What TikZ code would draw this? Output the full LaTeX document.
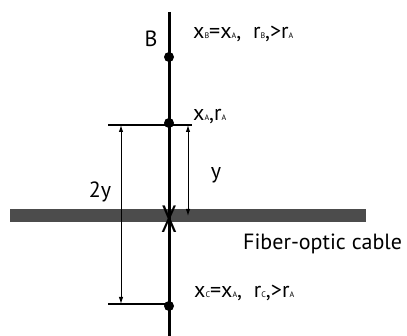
\documentclass[tikz,border=0pt]{standalone}
\usepackage{fontspec}
\setmainfont{PT Sans}
\usetikzlibrary{arrows.meta}
\newcommand{\sbs}[1]{{\fontsize{8}{8}\selectfont #1}}
\begin{document}
\begin{tikzpicture}[x=1pt,y=-1pt,
    dot/.style={circle,fill,inner sep=0pt,minimum size=10pt},
    dim/.style={{Latex[length=7pt,width=4.5pt]}-{Latex[length=7pt,width=4.5pt]},line width=1pt},
    tick/.style={line width=1.2pt},
    lbl/.style={font=\fontsize{22}{22}\selectfont,inner sep=0pt}]
  \useasboundingbox (0,0) rectangle (407,336);
  % Kabel
  \fill[black!70] (10,209) rectangle (366,222);
  % Linje og punkter
  \coordinate (top) at (169,12);
  \coordinate (bot) at (169,336);
  \draw[line width=3pt] (top) -- (bot);
  \node[font=\fontsize{38}{38}\selectfont,inner sep=0pt,anchor=base] (cross) at (169,233)
    {\scalebox{0.68}[1]{X}};
  \node[dot] (ptB) at (169,57) {};
  \node[dot] (ptA) at (169,123) {};
  \node[dot] (ptC) at (169,306) {};
  % Hjelpelinjer
  \coordinate (tA1) at (108,125); \coordinate (tA2) at (192,125);
  \coordinate (tC1) at (108,304); \coordinate (tC2) at (169,304);
  \draw[tick] (tA1) -- (tA2);
  \draw[tick] (tC1) -- (tC2);
  % Avstander
  \coordinate (d1) at (121,125); \coordinate (d2) at (121,304);
  \coordinate (e1) at (188,125); \coordinate (e2) at (188,216);
  \draw[dim] (d1) -- (d2);
  \draw[dim] (e1) -- (e2);
  \node[lbl,anchor=base] (lbl2y) at (100,198) {2y};
  \node[lbl,anchor=base] (lbly) at (216,179) {y};
  % Tekst
  \node[lbl,anchor=base] (lblB) at (151,47) {B};
  \node[lbl,anchor=base west] (txtB) at (193,39)
    {x\sbs{B}=x\sbs{A},\ \ r\sbs{B},>r\sbs{A}};
  \node[lbl,anchor=base west] (txtA) at (193,121) {x\sbs{A},r\sbs{A}};
  \node[lbl,anchor=base west] (txtC) at (194,298)
    {x\sbs{C}=x\sbs{A},\ \ r\sbs{C},>r\sbs{A}};
  \node[lbl,anchor=base west] (cable) at (243,250) {Fiber-optic cable};
\end{tikzpicture}
\end{document}
